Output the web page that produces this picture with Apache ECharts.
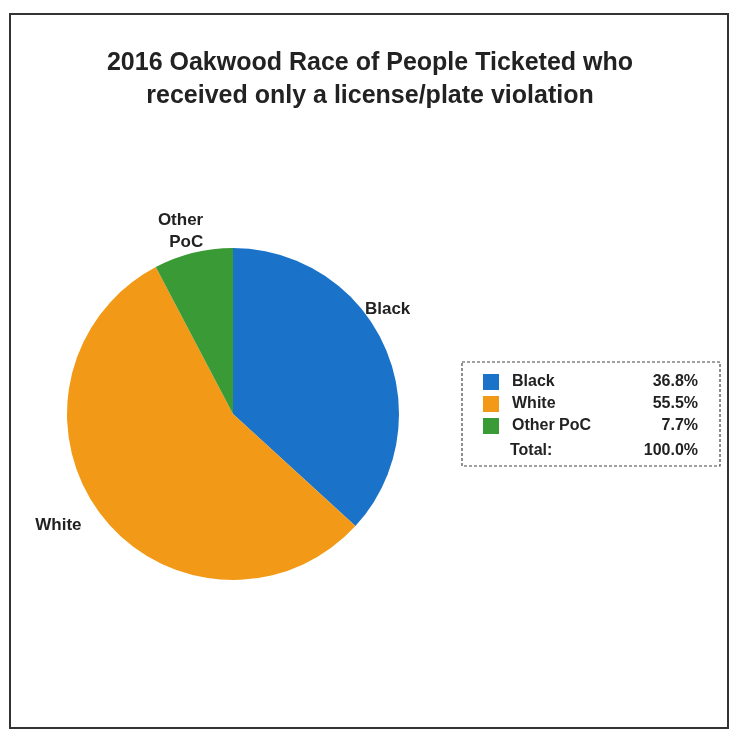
<!DOCTYPE html><html><head><meta charset="utf-8"><script src="https://cdn.jsdelivr.net/npm/echarts@6/dist/echarts.min.js"></script></head><body style="margin:0"><div id="c" style="width:740px;height:740px"></div><script>
const categories=['Black','White','Other PoC'];
const values=[36.8,55.5,7.7];
const colors=['#1a73c8','#f29a18','#3a9a35'];
const total='100.0%';
const ch=echarts.init(document.getElementById('c'));
const F='Liberation Sans, Arial, sans-serif';
const offs={'Black':[-25,-38],'White':[-15,10],'Other PoC':[15,-22]};
ch.setOption({
 title:{text:'2016 Oakwood Race of People Ticketed who\nreceived only a license/plate violation',left:'center',top:42,textStyle:{fontFamily:F,fontSize:25,fontWeight:'bold',color:'#222',lineHeight:33}},
 legend:{orient:'vertical',left:478,top:369,itemWidth:16,itemHeight:16,itemGap:6,icon:'rect',data:categories,
  textStyle:{fontFamily:F,fontSize:16,color:'#222',rich:{n:{width:110,padding:[0,0,0,8],fontSize:16,fontFamily:F,fontWeight:'bold'},v:{width:76,align:'right',fontSize:16,fontFamily:F,fontWeight:'bold'}}},
  formatter:n=>'{n|'+n+'}{v|'+values[categories.indexOf(n)].toFixed(1)+'%}'},
 graphic:[
  {type:'rect',shape:{x:10,y:14,width:718,height:714},style:{fill:'none',stroke:'#333',lineWidth:2}},
  {type:'rect',shape:{x:462,y:362,width:258,height:104},style:{fill:'none',stroke:'#444',lineWidth:1.2,lineDash:[3,2]}},
  {type:'text',left:510,top:443,style:{text:'Total:',font:'bold 16px '+F,fill:'#222'}},
  {type:'text',right:42,top:443,style:{text:total,font:'bold 16px '+F,fill:'#222'}}
 ],
 series:[{type:'pie',center:[233,414],radius:166,startAngle:90,clockwise:true,
  data:categories.map((c,i)=>({name:c,value:values[i],itemStyle:{color:colors[i]}})),
  label:{show:true,position:'outside',fontFamily:F,fontSize:17,fontWeight:'bold',color:'#222',align:'center',formatter:p=>p.name==='Other PoC'?'Other\nPoC':p.name,lineHeight:22},
  labelLayout:p=>{const o=offs[categories[p.dataIndex]];return {dx:o[0],dy:o[1]};},
  labelLine:{show:false,length:0,length2:0},emphasis:{disabled:true}}]
});
</script></body></html>
